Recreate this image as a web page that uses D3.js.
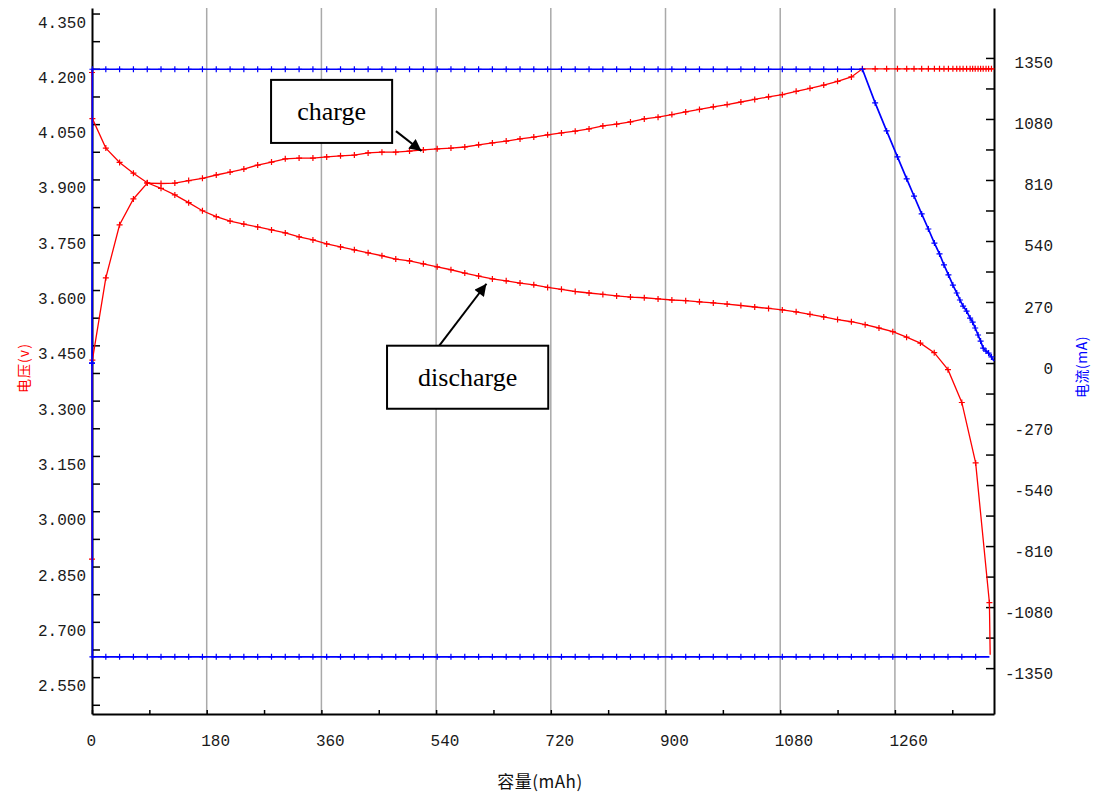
<!DOCTYPE html>
<html>
<head>
<meta charset="utf-8">
<script src="https://cdn.jsdelivr.net/npm/d3@7"></script>
<style>
  body { margin: 0; background: #fff; }
  .tick text { font-family: "Liberation Mono", monospace; font-size: 16px; fill: #1a1a1a; }
</style>
</head>
<body>
<svg id="chart" width="1095" height="796"></svg>
<script>
// one sample per minute (1300 mA -> ~21.7 mAh per sample)
const chargeCap = [0, 0.6, 21.7, 43.3, 65, 86.7, 108.3, 130, 151.7, 173.3, 195, 216.7, 238.3, 260, 281.7, 303.3,
  325, 346.7, 368.3, 390, 411.7, 433.3, 455, 476.7, 498.3, 520, 541.7, 563.3, 585, 606.7, 628.3, 650, 671.7,
  693.3, 715, 736.7, 758.3, 780, 801.7, 823.3, 845, 866.7, 888.3, 910, 931.7, 953.3, 975, 996.7, 1018.3, 1040,
  1061.7, 1083.3, 1105, 1126.7, 1148.3, 1170, 1191.7, 1209,
  1229, 1247, 1264, 1278.5, 1290, 1302, 1312.5, 1322, 1330, 1337, 1344, 1351, 1357, 1362, 1367, 1372.5, 1378,
  1382, 1386, 1390.5, 1394.5, 1398.5, 1403, 1407, 1411.5, 1415.5];
const chargeVolt = [2.87, 3.41, 3.633, 3.777, 3.847, 3.890, 3.889, 3.890, 3.897, 3.903, 3.912, 3.920, 3.928, 3.939,
  3.947, 3.956, 3.958, 3.958, 3.961, 3.964, 3.966, 3.972, 3.974, 3.974, 3.977, 3.980, 3.983, 3.985, 3.988, 3.994,
  3.999, 4.004, 4.010, 4.015, 4.021, 4.026, 4.031, 4.037, 4.045, 4.050, 4.056, 4.064, 4.069, 4.076, 4.083, 4.090,
  4.097, 4.103, 4.110, 4.117, 4.124, 4.130, 4.139, 4.147, 4.156, 4.166, 4.178, 4.200,
  4.2, 4.2, 4.2, 4.2, 4.2, 4.2, 4.2, 4.2, 4.2, 4.2, 4.2, 4.2, 4.2, 4.2, 4.2, 4.2, 4.2, 4.2, 4.2, 4.2, 4.2, 4.2,
  4.2, 4.2, 4.2, 4.2];
const chargeAmp = [0, 1300, 1300, 1300, 1300, 1300, 1300, 1300, 1300, 1300, 1300, 1300, 1300, 1300, 1300, 1300,
  1300, 1300, 1300, 1300, 1300, 1300, 1300, 1300, 1300, 1300, 1300, 1300, 1300, 1300, 1300, 1300, 1300, 1300,
  1300, 1300, 1300, 1300, 1300, 1300, 1300, 1300, 1300, 1300, 1300, 1300, 1300, 1300, 1300, 1300, 1300, 1300,
  1300, 1300, 1300, 1300, 1300, 1300,
  1151, 1027, 912, 815, 739, 660, 593, 531, 483, 434, 390, 345, 310, 279, 252, 230, 199, 181, 155, 124, 97, 66,
  53, 44, 27, 9];

const dischargeCap = [0, 0.6, 21.7, 43.3, 65, 86.7, 108.3, 130, 151.7, 173.3, 195, 216.7, 238.3, 260, 281.7, 303.3,
  325, 346.7, 368.3, 390, 411.7, 433.3, 455, 476.7, 498.3, 520, 541.7, 563.3, 585, 606.7, 628.3, 650, 671.7,
  693.3, 715, 736.7, 758.3, 780, 801.7, 823.3, 845, 866.7, 888.3, 910, 931.7, 953.3, 975, 996.7, 1018.3, 1040,
  1061.7, 1083.3, 1105, 1126.7, 1148.3, 1170, 1191.7, 1213.3, 1235, 1256.7, 1278.3, 1300, 1321.7, 1343.3, 1365,
  1386.7, 1408.3, 1409.5];
const dischargeVolt = [4.19, 4.065, 3.985, 3.946, 3.917, 3.891, 3.876, 3.858, 3.837, 3.815, 3.799,
  3.787, 3.779, 3.771, 3.763, 3.755, 3.744, 3.736, 3.725, 3.717, 3.709,
  3.701, 3.693, 3.684, 3.679, 3.671, 3.663, 3.655, 3.646, 3.638, 3.630,
  3.625, 3.619, 3.614, 3.607, 3.602, 3.596, 3.592, 3.588, 3.584, 3.581,
  3.579, 3.576, 3.573, 3.571, 3.568, 3.565, 3.562, 3.558, 3.554, 3.550,
  3.546, 3.541, 3.534, 3.527, 3.520, 3.514, 3.506, 3.497, 3.487, 3.472,
  3.456, 3.430, 3.384, 3.295, 3.131, 2.752, 2.611];
const dischargeAmp = [0, -1300, -1300, -1300, -1300, -1300, -1300, -1300, -1300, -1300, -1300, -1300, -1300,
  -1300, -1300, -1300, -1300, -1300, -1300, -1300, -1300, -1300, -1300, -1300, -1300, -1300, -1300, -1300,
  -1300, -1300, -1300, -1300, -1300, -1300, -1300, -1300, -1300, -1300, -1300, -1300, -1300, -1300, -1300,
  -1300, -1300, -1300, -1300, -1300, -1300, -1300, -1300, -1300, -1300, -1300, -1300, -1300, -1300, -1300,
  -1300, -1300, -1300, -1300, -1300, -1300, -1300, -1300, -1300];

const capTicks = [0, 180, 360, 540, 720, 900, 1080, 1260];
const voltTicks = [2.550, 2.700, 2.850, 3.000, 3.150, 3.300, 3.450, 3.600, 3.750, 3.900, 4.050, 4.200, 4.350];
const ampTicks = [-1350, -1080, -810, -540, -270, 0, 270, 540, 810, 1080, 1350];

// annotation boxes in data units: [cap0, cap1, volt0, volt1], arrow [from cap, volt, to cap, volt]
const notes = [
  {text: 'charge', box: [281, 471, 4.170, 3.999], arrow: [477, 4.031, 517, 3.977]},
  {text: 'discharge', box: [463, 716, 3.449, 3.278], arrow: [545, 3.449, 619, 3.617]}
];

const svg = d3.select('#chart');
const x = d3.scaleLinear().domain([0, 1415.5]).range([92, 994]);
const yV = d3.scaleLinear().domain([2.45, 4.365]).range([714, 8]);
const yI = d3.scaleLinear().domain([-1553, 1571]).range([714, 8]);

const halfSteps = (ticks, step) => ticks.flatMap(t => [t, t + step / 2]);

// grid
svg.append('g')
  .selectAll('line')
  .data(capTicks.slice(1))
  .enter()
  .append('line')
  .attr('x1', d => x(d)).attr('x2', d => x(d))
  .attr('y1', 8).attr('y2', 714)
  .attr('stroke', '#a9a9a9')
  .attr('stroke-width', 1.5);

// axes
const leftAxis = svg.append('g')
  .attr('transform', 'translate(92,0)')
  .call(d3.axisLeft(yV)
    .tickValues([2.475].concat(halfSteps(voltTicks, 0.15)).filter(v => v < 4.36))
    .tickSize(-8).tickSizeOuter(0).tickPadding(6)
    .tickFormat(d => voltTicks.some(t => Math.abs(t - d) < 1e-6) ? d3.format('.3f')(d) : ''));
leftAxis.selectAll('text').attr('dy', null).attr('y', 13.5);

const rightAxis = svg.append('g')
  .attr('transform', 'translate(994,0)')
  .call(d3.axisRight(yI)
    .tickValues(halfSteps(ampTicks, 270).filter(v => v <= 1350))
    .tickSize(-8).tickSizeOuter(0)
    .tickFormat(d => ampTicks.includes(d) ? d : ''));
rightAxis.selectAll('text').attr('dy', null).attr('y', 10).attr('x', 59).attr('text-anchor', 'end');

const bottomAxis = svg.append('g')
  .attr('transform', 'translate(0,714)')
  .call(d3.axisBottom(x)
    .tickValues(halfSteps(capTicks, 180).filter(v => v < 1415))
    .tickSize(-4).tickSizeOuter(0)
    .tickFormat(d => capTicks.includes(d) ? d : ''));
bottomAxis.selectAll('text').attr('dy', null).attr('y', 32).attr('x', -6).attr('text-anchor', 'start');

[leftAxis, rightAxis, bottomAxis].forEach(g => {
  g.select('.domain').attr('stroke', '#000').attr('stroke-width', 2);
  g.selectAll('.tick line').attr('stroke', '#000').attr('stroke-width', 1.5);
});

// series: voltage first, current on top (covers the jumps at 0 mAh)
const series = [
  {cap: chargeCap, val: chargeVolt, y: yV, color: '#ff0000', width: 1.3},
  {cap: dischargeCap, val: dischargeVolt, y: yV, color: '#ff0000', width: 1.3},
  {cap: chargeCap.slice(0, 58), val: chargeAmp.slice(0, 58), y: yI, color: '#0000ff', width: 1.7},
  {cap: chargeCap.slice(57), val: chargeAmp.slice(57), y: yI, color: '#0000ff', width: 1.7},
  {cap: dischargeCap, val: dischargeAmp, y: yI, color: '#0000ff', width: 1.7}
];

series.forEach(s => {
  const pts = d3.zip(s.cap, s.val);
  const line = d3.line().x(d => x(d[0])).y(d => s.y(d[1]));
  svg.append('path')
    .attr('d', line(pts))
    .attr('fill', 'none')
    .attr('stroke', s.color)
    .attr('stroke-width', s.width);
  svg.append('g')
    .selectAll('path')
    .data(pts.slice(0, -1))
    .enter()
    .append('path')
    .attr('transform', d => `translate(${x(d[0])},${s.y(d[1])})`)
    .attr('d', 'M-3,0H3M0,-3V3')
    .attr('stroke', s.color)
    .attr('stroke-width', 1.2);
});

// axis titles
svg.append('text')
  .attr('transform', 'translate(29,368) rotate(-90)')
  .attr('text-anchor', 'middle')
  .attr('fill', '#ff0000')
  .style('font-family', '"Noto Sans CJK SC", sans-serif')
  .style('font-size', '14px')
  .style('letter-spacing', '1px')
  .text('电压(v)');
svg.append('text')
  .attr('transform', 'translate(1087,367) rotate(-90)')
  .attr('text-anchor', 'middle')
  .attr('fill', '#0000ff')
  .style('font-family', '"Noto Sans CJK SC", sans-serif')
  .style('font-size', '14px')
  .style('letter-spacing', '0.5px')
  .text('电流(mA)');
svg.append('text')
  .attr('x', 540).attr('y', 788)
  .attr('text-anchor', 'middle')
  .attr('fill', '#111')
  .style('font-family', '"Noto Sans CJK SC", sans-serif')
  .style('font-size', '17px')
  .style('letter-spacing', '0.5px')
  .text('容量(mAh)');

// annotations
svg.append('defs').append('marker')
  .attr('id', 'head')
  .attr('viewBox', '0 0 10 10')
  .attr('refX', 10).attr('refY', 5)
  .attr('markerUnits', 'userSpaceOnUse')
  .attr('markerWidth', 16).attr('markerHeight', 12)
  .attr('orient', 'auto')
  .append('path')
  .attr('d', 'M0,0L10,5L0,10Z')
  .attr('fill', '#000');

notes.forEach(n => {
  const [c0, c1, v0, v1] = n.box;
  svg.append('rect')
    .attr('x', x(c0)).attr('y', yV(v0))
    .attr('width', x(c1) - x(c0)).attr('height', yV(v1) - yV(v0))
    .attr('fill', '#fff')
    .attr('stroke', '#000')
    .attr('stroke-width', 2);
  svg.append('text')
    .attr('x', (x(c0) + x(c1)) / 2)
    .attr('y', (yV(v0) + yV(v1)) / 2 + 9)
    .attr('text-anchor', 'middle')
    .style('font-family', '"Liberation Serif", "Times New Roman", serif')
    .style('font-size', '26px')
    .text(n.text);
  const [a0, b0, a1, b1] = n.arrow;
  svg.append('line')
    .attr('x1', x(a0)).attr('y1', yV(b0))
    .attr('x2', x(a1)).attr('y2', yV(b1))
    .attr('stroke', '#000')
    .attr('stroke-width', 2)
    .attr('marker-end', 'url(#head)');
});
</script>
</body>
</html>
